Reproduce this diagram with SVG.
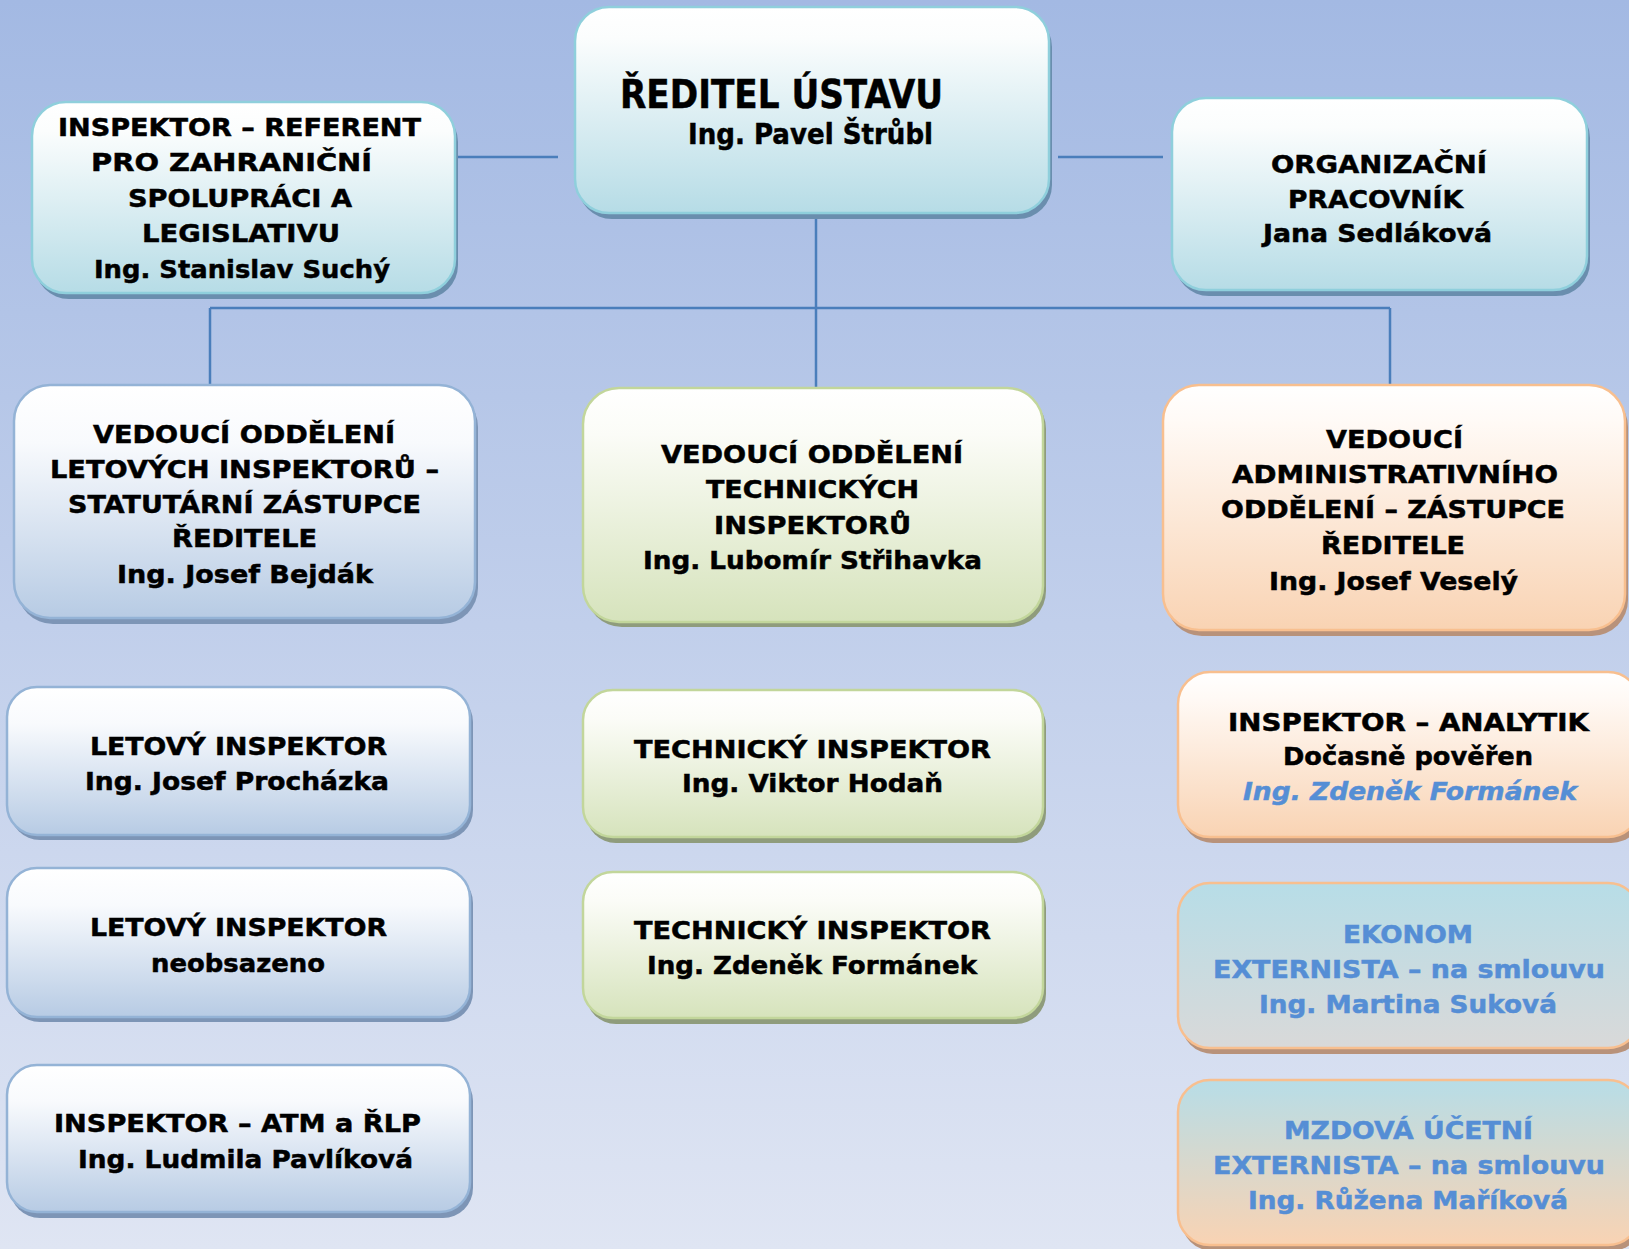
<svg xmlns="http://www.w3.org/2000/svg" width="1629" height="1249" viewBox="0 0 1629 1249">
<defs>
<linearGradient id="bg" x1="0" y1="0" x2="0" y2="1"><stop offset="0" stop-color="#a3b9e3"/><stop offset="1" stop-color="#dfe5f3"/></linearGradient>
<linearGradient id="gCyan" x1="0" y1="0" x2="0" y2="1"><stop offset="0" stop-color="#ffffff"/><stop offset="0.15" stop-color="#fbfdfd"/><stop offset="1" stop-color="#b6dce6"/></linearGradient>
<linearGradient id="gBlue" x1="0" y1="0" x2="0" y2="1"><stop offset="0" stop-color="#ffffff"/><stop offset="0.25" stop-color="#f8fafd"/><stop offset="1" stop-color="#b7cbe4"/></linearGradient>
<linearGradient id="gGreen" x1="0" y1="0" x2="0" y2="1"><stop offset="0" stop-color="#ffffff"/><stop offset="0.2" stop-color="#fbfcf7"/><stop offset="1" stop-color="#d6e3bc"/></linearGradient>
<linearGradient id="gPeach" x1="0" y1="0" x2="0" y2="1"><stop offset="0" stop-color="#ffffff"/><stop offset="0.15" stop-color="#fffaf6"/><stop offset="1" stop-color="#f9d3b3"/></linearGradient>
<linearGradient id="gGrey" x1="0" y1="0" x2="0" y2="1"><stop offset="0" stop-color="#b7dde7"/><stop offset="1" stop-color="#d9d9d9"/></linearGradient>
<linearGradient id="gCyanPeach" x1="0" y1="0" x2="0" y2="1"><stop offset="0" stop-color="#b7dde7"/><stop offset="1" stop-color="#f9d3b3"/></linearGradient>
</defs>
<style>
.t{font-family:"DejaVu Sans",Verdana,"Liberation Sans",sans-serif;font-weight:bold;font-size:25px;fill:#000;stroke:#000;stroke-width:0.5;text-anchor:middle}
.bl{fill:#558ed5;stroke:#558ed5}
.it{font-style:italic}
.conn{stroke:#4a7ebb;stroke-width:2.5;fill:none}
.cy{fill:url(#gCyan);stroke:#8fcfdc;stroke-width:2.5}
.cyS{fill:#6a8eae}
.bu{fill:url(#gBlue);stroke:#94b3d6;stroke-width:2.5}
.buS{fill:#7d95b6}
.gr{fill:url(#gGreen);stroke:#c2d69b;stroke-width:2.5}
.grS{fill:#8f9c7c}
.pe{fill:url(#gPeach);stroke:#f8bf8f;stroke-width:2.5}
.peS{fill:#b8927a}
.gy{fill:url(#gGrey);stroke:#f8bf8f;stroke-width:2.5}
.cp{fill:url(#gCyanPeach);stroke:#f8bf8f;stroke-width:2.5}
</style>
<rect x="0" y="0" width="1629" height="1249" fill="url(#bg)"/>

<g id="connectors">
<line class="conn" x1="816" y1="213" x2="816" y2="388"/>
<line class="conn" x1="210" y1="308" x2="1390" y2="308"/>
<line class="conn" x1="210" y1="308" x2="210" y2="385"/>
<line class="conn" x1="1390" y1="308" x2="1390" y2="385"/>
<line class="conn" x1="455" y1="157" x2="558" y2="157"/>
<line class="conn" x1="1058" y1="157" x2="1163" y2="157"/>
</g>

<g id="reditel">
<rect class="cyS" x="578" y="13" width="474" height="206" rx="34"/>
<rect class="cy" x="575" y="7" width="474" height="206" rx="34"/>
<text class="t" style="font-size:39px" x="781.5" y="108" textLength="323" lengthAdjust="spacingAndGlyphs">ŘEDITEL ÚSTAVU</text>
<text class="t" style="font-size:29px" x="810.5" y="144" textLength="245" lengthAdjust="spacingAndGlyphs">Ing. Pavel Štrůbl</text>
</g>

<g id="referent">
<rect class="cyS" x="35" y="108" width="423" height="191" rx="34"/>
<rect class="cy" x="32" y="102" width="423" height="191" rx="34"/>
<text class="t" x="239.5" y="136" textLength="363" lengthAdjust="spacingAndGlyphs">INSPEKTOR – REFERENT</text>
<text class="t" x="231.5" y="171" textLength="281" lengthAdjust="spacingAndGlyphs">PRO ZAHRANIČNÍ</text>
<text class="t" x="240" y="207" textLength="224" lengthAdjust="spacingAndGlyphs">SPOLUPRÁCI A</text>
<text class="t" x="241" y="242" textLength="198" lengthAdjust="spacingAndGlyphs">LEGISLATIVU</text>
<text class="t" x="242" y="278" textLength="296" lengthAdjust="spacingAndGlyphs">Ing. Stanislav Suchý</text>
</g>

<g id="organizacni">
<rect class="cyS" x="1175" y="104" width="415" height="192" rx="34"/>
<rect class="cy" x="1172" y="98" width="415" height="192" rx="34"/>
<text class="t" x="1379" y="173" textLength="216" lengthAdjust="spacingAndGlyphs">ORGANIZAČNÍ</text>
<text class="t" x="1375.5" y="208" textLength="175" lengthAdjust="spacingAndGlyphs">PRACOVNÍK</text>
<text class="t" x="1377.5" y="242" textLength="229" lengthAdjust="spacingAndGlyphs">Jana Sedláková</text>
</g>

<g id="vedouci-letovych">
<rect class="buS" x="17" y="391" width="461" height="233" rx="36"/>
<rect class="bu" x="14" y="385" width="461" height="233" rx="36"/>
<text class="t" x="244" y="443" textLength="302" lengthAdjust="spacingAndGlyphs">VEDOUCÍ ODDĚLENÍ</text>
<text class="t" x="244.5" y="478" textLength="389" lengthAdjust="spacingAndGlyphs">LETOVÝCH INSPEKTORŮ –</text>
<text class="t" x="244.5" y="513" textLength="353" lengthAdjust="spacingAndGlyphs">STATUTÁRNÍ ZÁSTUPCE</text>
<text class="t" x="244.5" y="547" textLength="145" lengthAdjust="spacingAndGlyphs">ŘEDITELE</text>
<text class="t" x="245" y="583" textLength="256" lengthAdjust="spacingAndGlyphs">Ing. Josef Bejdák</text>
</g>

<g id="letovy-1">
<rect class="buS" x="10" y="692" width="463" height="148" rx="30"/>
<rect class="bu" x="7" y="687" width="463" height="148" rx="30"/>
<text class="t" x="238.5" y="755" textLength="297" lengthAdjust="spacingAndGlyphs">LETOVÝ INSPEKTOR</text>
<text class="t" x="237" y="790" textLength="304" lengthAdjust="spacingAndGlyphs">Ing. Josef Procházka</text>
</g>

<g id="letovy-2">
<rect class="buS" x="10" y="873" width="463" height="149" rx="30"/>
<rect class="bu" x="7" y="868" width="463" height="149" rx="30"/>
<text class="t" x="238.5" y="936" textLength="297" lengthAdjust="spacingAndGlyphs">LETOVÝ INSPEKTOR</text>
<text class="t" x="238" y="972" textLength="174" lengthAdjust="spacingAndGlyphs">neobsazeno</text>
</g>

<g id="atm">
<rect class="buS" x="10" y="1071" width="463" height="147" rx="30"/>
<rect class="bu" x="7" y="1065" width="463" height="147" rx="30"/>
<text class="t" x="237.5" y="1132" textLength="367" lengthAdjust="spacingAndGlyphs">INSPEKTOR – ATM a ŘLP</text>
<text class="t" x="245.5" y="1168" textLength="335" lengthAdjust="spacingAndGlyphs">Ing. Ludmila Pavlíková</text>
</g>

<g id="vedouci-technickych">
<rect class="grS" x="586" y="393" width="460" height="234" rx="36"/>
<rect class="gr" x="583" y="388" width="460" height="234" rx="36"/>
<text class="t" x="812" y="463" textLength="302" lengthAdjust="spacingAndGlyphs">VEDOUCÍ ODDĚLENÍ</text>
<text class="t" x="812.5" y="498" textLength="213" lengthAdjust="spacingAndGlyphs">TECHNICKÝCH</text>
<text class="t" x="812.5" y="534" textLength="197" lengthAdjust="spacingAndGlyphs">INSPEKTORŮ</text>
<text class="t" x="812.5" y="569" textLength="339" lengthAdjust="spacingAndGlyphs">Ing. Lubomír Střihavka</text>
</g>

<g id="technicky-1">
<rect class="grS" x="586" y="696" width="460" height="147" rx="30"/>
<rect class="gr" x="583" y="690" width="460" height="147" rx="30"/>
<text class="t" x="812.5" y="758" textLength="357" lengthAdjust="spacingAndGlyphs">TECHNICKÝ INSPEKTOR</text>
<text class="t" x="812.5" y="792" textLength="261" lengthAdjust="spacingAndGlyphs">Ing. Viktor Hodaň</text>
</g>

<g id="technicky-2">
<rect class="grS" x="586" y="878" width="460" height="146" rx="30"/>
<rect class="gr" x="583" y="872" width="460" height="146" rx="30"/>
<text class="t" x="812.5" y="939" textLength="357" lengthAdjust="spacingAndGlyphs">TECHNICKÝ INSPEKTOR</text>
<text class="t" x="812" y="974" textLength="330" lengthAdjust="spacingAndGlyphs">Ing. Zdeněk Formánek</text>
</g>

<g id="vedouci-admin">
<rect class="peS" x="1166" y="391" width="462" height="245" rx="36"/>
<rect class="pe" x="1163" y="385" width="462" height="245" rx="36"/>
<text class="t" x="1394.5" y="448" textLength="137" lengthAdjust="spacingAndGlyphs">VEDOUCÍ</text>
<text class="t" x="1395" y="483" textLength="326" lengthAdjust="spacingAndGlyphs">ADMINISTRATIVNÍHO</text>
<text class="t" x="1393" y="518" textLength="344" lengthAdjust="spacingAndGlyphs">ODDĚLENÍ – ZÁSTUPCE</text>
<text class="t" x="1393" y="554" textLength="144" lengthAdjust="spacingAndGlyphs">ŘEDITELE</text>
<text class="t" x="1393.5" y="590" textLength="249" lengthAdjust="spacingAndGlyphs">Ing. Josef Veselý</text>
</g>

<g id="analytik">
<rect class="peS" x="1181" y="678" width="462" height="165" rx="32"/>
<rect class="pe" x="1178" y="672" width="462" height="165" rx="32"/>
<text class="t" x="1408.5" y="731" textLength="361" lengthAdjust="spacingAndGlyphs">INSPEKTOR – ANALYTIK</text>
<text class="t" x="1408" y="765" textLength="250" lengthAdjust="spacingAndGlyphs">Dočasně pověřen</text>
<text class="t bl it" x="1410" y="800" textLength="334" lengthAdjust="spacingAndGlyphs">Ing. Zdeněk Formánek</text>
</g>

<g id="ekonom">
<rect class="peS" x="1181" y="889" width="462" height="165" rx="32"/>
<rect class="gy" x="1178" y="883" width="462" height="165" rx="32"/>
<text class="t bl" x="1408" y="943" textLength="130" lengthAdjust="spacingAndGlyphs">EKONOM</text>
<text class="t bl" x="1409" y="978" textLength="392" lengthAdjust="spacingAndGlyphs">EXTERNISTA – na smlouvu</text>
<text class="t bl" x="1408" y="1013" textLength="298" lengthAdjust="spacingAndGlyphs">Ing. Martina Suková</text>
</g>

<g id="mzdova">
<rect class="peS" x="1181" y="1086" width="462" height="165" rx="32"/>
<rect class="cp" x="1178" y="1080" width="462" height="165" rx="32"/>
<text class="t bl" x="1408.5" y="1139" textLength="249" lengthAdjust="spacingAndGlyphs">MZDOVÁ ÚČETNÍ</text>
<text class="t bl" x="1409" y="1174" textLength="392" lengthAdjust="spacingAndGlyphs">EXTERNISTA – na smlouvu</text>
<text class="t bl" x="1408" y="1209" textLength="320" lengthAdjust="spacingAndGlyphs">Ing. Růžena Maříková</text>
</g>
</svg>
